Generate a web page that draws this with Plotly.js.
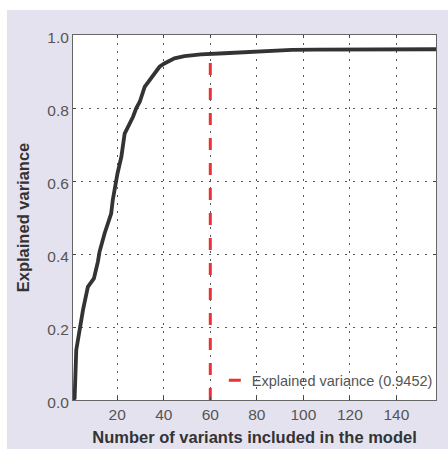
<!DOCTYPE html>
<html>
<head>
<meta charset="utf-8">
<script src="https://cdn.plot.ly/plotly-3.0.1.min.js"></script>
<style>
  html, body { margin: 0; padding: 0; background: #ffffff; }
  #chart { position: absolute; left: 7px; top: 10px; width: 441px; height: 439px; }
</style>
</head>
<body>
<div id="chart"></div>
<script>
// Cumulative explained variance vs number of variants
const nVariants = [1, 1.7, 2.4, 3.9, 5.3, 7.4, 10, 11.7, 12.4, 14.6, 16.3, 17.4, 18.1, 18.7, 20.1, 21.8, 23.2, 24.7, 26.8, 28.2, 29.7, 31.8, 33.9, 36.1, 38.2, 40.3, 44.6, 48.9, 56, 66, 75, 85, 95, 105, 120, 140, 157];
const explainedVar = [0, 0.005, 0.137, 0.2, 0.247, 0.31, 0.333, 0.379, 0.406, 0.457, 0.489, 0.511, 0.548, 0.575, 0.62, 0.667, 0.73, 0.749, 0.776, 0.8, 0.817, 0.858, 0.877, 0.895, 0.913, 0.922, 0.936, 0.942, 0.947, 0.95, 0.953, 0.956, 0.959, 0.96, 0.961, 0.961, 0.961];

// Cut-off marker
const cutoffX = [60, 60];
const cutoffY = [0, 0.9452];
const cutoffLabel = 'Explained variance (0.9452)';

const xTicks = [20, 40, 60, 80, 100, 120, 140];
const yTicks = [0, 0.2, 0.4, 0.6, 0.8, 1.0];
const yTickText = ['0.0', '0.2', '0.4', '0.6', '0.8', '1.0'];

const traces = [
  {
    x: nVariants, y: explainedVar, type: 'scatter', mode: 'lines',
    line: { color: '#333333', width: 3.8 },
    showlegend: false, hoverinfo: 'skip'
  },
  {
    x: cutoffX, y: cutoffY, type: 'scatter', mode: 'lines',
    line: { color: '#e8323a', width: 3, dash: '12px,13px' },
    showlegend: false, hoverinfo: 'skip'
  },
  {
    x: [null], y: [null], type: 'scatter', mode: 'lines', name: cutoffLabel,
    line: { color: '#e8323a', width: 3, dash: '0px,12px,12px,100px' },
    showlegend: true
  }
];

const gridCol = '#555555';
const layout = {
  width: 441, height: 439,
  paper_bgcolor: '#e5e2ef',
  plot_bgcolor: '#ffffff',
  margin: { l: 66, r: 10, t: 25, b: 49 },
  font: { family: 'Liberation Sans, Arial, sans-serif', color: '#555555', size: 15.5 },
  showlegend: true,
  legend: {
    x: 1.005, xanchor: 'right', y: 0.01, yanchor: 'bottom',
    bgcolor: 'rgba(0,0,0,0)', borderwidth: 0,
    font: { size: 14.5, color: '#555555' }
  },
  xaxis: {
    range: [1, 157], tickvals: xTicks, ticktext: xTicks.map(String),
    showgrid: true, gridcolor: gridCol, gridwidth: 1, griddash: '2px,6px',
    zeroline: false, showline: true, linecolor: '#666666', linewidth: 1, mirror: 'ticks',
    ticks: 'inside', ticklen: 3, tickcolor: '#444444',
    title: { text: '<b>Number of variants included in the model</b>', font: { size: 16.5, color: '#333333' }, standoff: 9 },
    automargin: false
  },
  yaxis: {
    range: [0, 1], tickvals: yTicks, ticktext: yTickText,
    showgrid: true, gridcolor: gridCol, gridwidth: 1, griddash: '2px,6px',
    zeroline: false, showline: true, linecolor: '#666666', linewidth: 1, mirror: 'ticks',
    ticks: 'inside', ticklen: 3, tickcolor: '#444444', ticklabelshift: 3,
    title: { text: '<b>Explained variance</b>', font: { size: 16.5, color: '#333333' }, standoff: 13 },
    automargin: false
  }
};

Plotly.newPlot('chart', traces, layout, { staticPlot: true, displayModeBar: false });
</script>
</body>
</html>
